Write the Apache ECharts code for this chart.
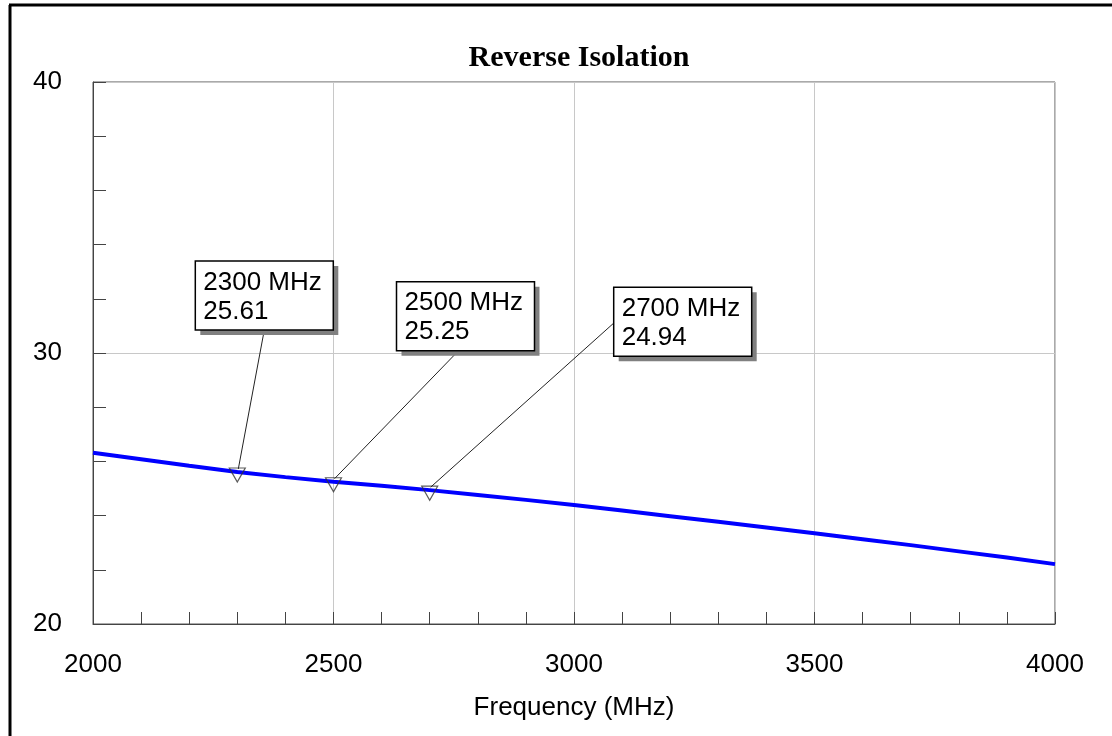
<!DOCTYPE html>
<html>
<head>
<meta charset="utf-8">
<script src="https://cdn.jsdelivr.net/npm/echarts@6/dist/echarts.min.js"></script>
<style>
  html, body { margin: 0; padding: 0; background: #fff; }
  #chart { width: 1112px; height: 736px; }
</style>
</head>
<body>
<div id="chart"></div>
<script>
// trace (MHz, dB)
const freqs = [2000, 2100, 2200, 2300, 2400, 2500, 2600, 2700, 2800, 2900, 3000,
  3100, 3200, 3300, 3400, 3500, 3600, 3700, 3800, 3900, 4000]
const isolation = [26.32, 26.08, 25.84, 25.61, 25.42, 25.25, 25.10, 24.94, 24.76, 24.58, 24.39,
  24.19, 23.98, 23.77, 23.56, 23.35, 23.13, 22.91, 22.68, 22.45, 22.21]

// markers
const markerFreqs = [2300, 2500, 2700]
const markerVals = [25.61, 25.25, 24.94]

// where each label box sits, relative to its marker (px), and where the leader leaves the box
const boxOffsets = [[-42, -211], [63, -200], [184, -203]]
const leaderAnchors = [[69, 69], [62, 69], [0, 36]]
const boxW = 138
const boxH = 69

const font = '"Liberation Sans", Arial, sans-serif'

const chart = echarts.init(document.getElementById('chart'))

const option = {
  animation: false,
  title: {
    text: 'Reverse Isolation',
    left: 574,
    top: 38,
    textAlign: 'center',
    textStyle: {
      fontFamily: '"Liberation Serif", "Times New Roman", serif',
      fontSize: 30,
      fontWeight: 'bold',
      color: '#000'
    }
  },
  grid: {
    left: 93,
    right: 57,
    top: 82,
    bottom: 112,
    show: true,
    borderColor: '#555',
    borderWidth: 1
  },
  xAxis: {
    type: 'value',
    min: 2000,
    max: 4000,
    interval: 500,
    name: 'Frequency (MHz)',
    nameLocation: 'middle',
    nameGap: 71,
    nameTextStyle: { fontFamily: font, fontSize: 26, color: '#000' },
    axisLine: { lineStyle: { color: '#444', width: 1 } },
    axisTick: { inside: true, length: 12, lineStyle: { color: '#444' } },
    minorTick: { show: true, splitNumber: 5, length: 12, lineStyle: { color: '#444' } },
    splitLine: { show: true, lineStyle: { color: '#c8c8c8', width: 1 } },
    axisLabel: { fontFamily: font, fontSize: 26, color: '#000', margin: 28, formatter: v => String(v) }
  },
  yAxis: {
    type: 'value',
    min: 20,
    max: 40,
    interval: 10,
    axisLine: { show: true, lineStyle: { color: '#444', width: 1 } },
    axisTick: { show: true, inside: true, length: 13, lineStyle: { color: '#444' } },
    minorTick: { show: true, splitNumber: 5, length: 13, lineStyle: { color: '#444' } },
    splitLine: { show: true, lineStyle: { color: '#c8c8c8', width: 1 } },
    axisLabel: { fontFamily: font, fontSize: 26, color: '#000', margin: 31, padding: [10, 0, 0, 0] }
  },
  series: [
    {
      name: 'S12',
      type: 'line',
      data: freqs.map((f, i) => [f, isolation[i]]),
      showSymbol: false,
      smooth: false,
      lineStyle: { color: '#0000ff', width: 4 },
      z: 2
    },
    {
      name: 'markers',
      type: 'scatter',
      data: markerFreqs.map((f, i) => [f, markerVals[i]]),
      symbol: 'triangle',
      symbolRotate: 180,
      symbolSize: [16, 14],
      symbolOffset: [0, 3],
      itemStyle: { color: 'rgba(0,0,0,0)', borderColor: '#333', borderWidth: 1.2 },
      z: 3
    }
  ]
}

chart.setOption(option)

// label boxes with leaders, placed off the marker positions
const graphics = [
  { type: 'line', shape: { x1: 10, y1: 5, x2: 10, y2: 736 }, style: { stroke: '#000', lineWidth: 3 } },
  { type: 'line', shape: { x1: 9, y1: 5, x2: 1112, y2: 5 }, style: { stroke: '#000', lineWidth: 3 } }
]
markerFreqs.forEach((f, i) => {
  const p = chart.convertToPixel({ gridIndex: 0 }, [f, markerVals[i]])
  const bx = p[0] + boxOffsets[i][0]
  const by = p[1] + boxOffsets[i][1]
  graphics.push({
    type: 'line',
    shape: { x1: bx + leaderAnchors[i][0], y1: by + leaderAnchors[i][1], x2: p[0] + 1, y2: p[1] - 3 },
    style: { stroke: '#222', lineWidth: 1 },
    z: 10
  })
  graphics.push({
    type: 'rect',
    shape: { x: bx + 5, y: by + 5, width: boxW, height: boxH },
    style: { fill: '#808080' },
    z: 11
  })
  graphics.push({
    type: 'rect',
    shape: { x: bx, y: by, width: boxW, height: boxH },
    style: { fill: '#fff', stroke: '#000', lineWidth: 1.5 },
    z: 12
  })
  graphics.push({
    type: 'text',
    x: bx + 8,
    y: by + 7,
    style: {
      text: f + ' MHz\n' + markerVals[i].toFixed(2),
      font: '26px ' + font,
      fill: '#000',
      lineHeight: 29
    },
    z: 13
  })
})
chart.setOption({ graphic: graphics })

window.addEventListener('resize', () => chart.resize())
</script>
</body>
</html>
